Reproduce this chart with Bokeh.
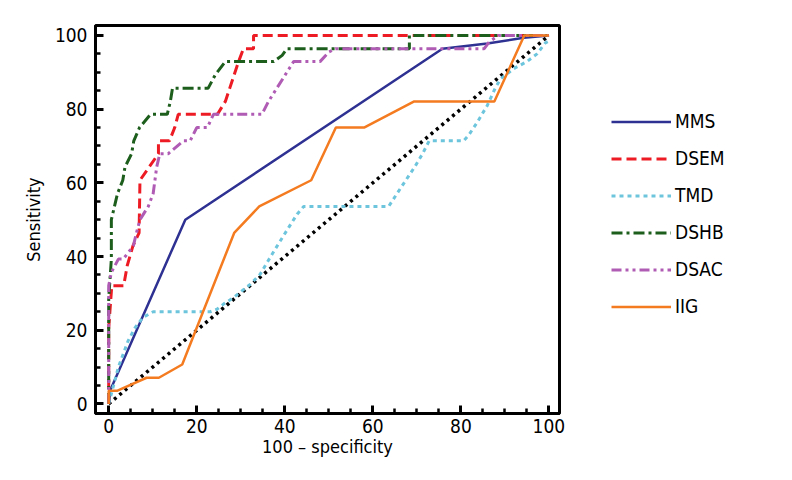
from bokeh.plotting import figure
from bokeh.models import Range1d, SingleIntervalTicker, Legend, LegendItem
from bokeh.embed import file_html
from bokeh.resources import INLINE

# ---- data ----
diag_x = [0, 100]
diag_y = [0, 100]

mms_x = [0, 0.3, 17.4, 75.8, 86.0, 94.3, 100]
mms_y = [0, 3.6, 50.0, 96.4, 97.8, 99.4, 100]

dsem_x = [0, 0, 0.7, 3.4, 4.2, 5.5, 6.9, 7.1, 9.2, 11.3, 11.3, 13.8, 15.0, 15.8, 24.7, 26.5, 27.5, 28.5, 29.5, 30.6, 32.9, 32.9, 100]
dsem_y = [0, 20.6, 32.1, 32.1, 37.5, 42.9, 46.4, 60.7, 64.3, 67.9, 71.4, 71.4, 75.0, 78.6, 78.6, 82.1, 85.7, 89.3, 92.9, 96.4, 96.4, 100, 100]

tmd_x = [0, 2.2, 4.4, 6.0, 7.8, 10.1, 23.0, 24.6, 26.1, 28.4, 32.2, 34.4, 36.7, 39.0, 40.9, 42.8, 44.3, 63.6, 65.5, 67.5, 69.5, 71.3, 72.8, 80.6, 81.8, 83.7, 86.0, 87.8, 89.0, 92.0, 95.0, 97.3, 99.2, 100]
tmd_y = [0, 10.0, 17.1, 20.7, 23.5, 25.0, 25.0, 25.7, 27.1, 28.9, 32.5, 35.2, 39.8, 44.3, 47.9, 51.5, 53.6, 53.6, 57.1, 60.7, 64.3, 67.9, 71.4, 71.4, 73.0, 76.4, 81.0, 85.7, 88.2, 91.0, 92.9, 95.0, 98.0, 98.5]

dshb_x = [0, 0, 0.6, 0.6, 2.0, 3.2, 3.7, 5.2, 5.7, 7.0, 9.5, 13.3, 14.0, 14.5, 22.6, 24.2, 26.5, 37.5, 39.4, 40.5, 68.3, 68.3, 100]
dshb_y = [0, 28.6, 39.3, 50.0, 57.1, 60.7, 64.3, 67.9, 71.4, 75.0, 78.6, 78.6, 82.1, 85.7, 85.7, 89.3, 92.9, 92.9, 94.6, 96.4, 96.4, 100, 100]

dsac_x = [0, 0, 0.6, 2.2, 3.3, 5.6, 6.3, 7.1, 9.0, 10.1, 10.9, 11.6, 13.5, 17.0, 18.5, 20.0, 22.4, 23.8, 34.8, 36.3, 38.2, 40.1, 42.0, 48.0, 50.0, 51.5, 85.3, 86.4, 88.5, 100]
dsac_y = [0, 32.1, 35.7, 39.3, 39.3, 42.9, 46.4, 50.0, 53.6, 57.1, 64.3, 67.9, 67.9, 71.4, 71.4, 75.0, 75.0, 78.6, 78.6, 82.1, 85.7, 89.3, 92.9, 92.9, 95.5, 96.4, 96.4, 98.2, 100, 100]

iig_x = [0, 0, 2.0, 8.6, 11.4, 16.7, 28.5, 34.2, 46.0, 51.6, 58.0, 69.4, 87.6, 94.4, 100]
iig_y = [0, 3.6, 3.6, 7.1, 7.1, 10.7, 46.4, 53.6, 60.7, 75.0, 75.0, 82.1, 82.1, 100, 100]

names = ["MMS", "DSEM", "TMD", "DSHB", "DSAC", "IIG"]

FONT = "DejaVu Sans Condensed, Roboto, sans-serif"

p = figure(frame_width=464, frame_height=388, output_backend="svg", toolbar_location=None,
           x_range=Range1d(-3.0, 102.4), y_range=Range1d(-2.6, 102.7),
           min_border_left=95, min_border_right=217, min_border_top=25, min_border_bottom=59)
p.background_fill_color = "white"
p.border_fill_color = "white"
p.xgrid.visible = False
p.ygrid.visible = False
p.outline_line_color = "black"
p.outline_line_width = 3
p.outline_line_alpha = 1

p.xaxis.ticker = SingleIntervalTicker(interval=20, num_minor_ticks=4)
p.yaxis.ticker = SingleIntervalTicker(interval=20, num_minor_ticks=4)
for ax in (p.xaxis, p.yaxis):
    ax.axis_line_width = 3
    ax.major_tick_in = 8
    ax.major_tick_out = 0
    ax.minor_tick_in = 5
    ax.minor_tick_out = 0
    ax.major_tick_line_width = 3
    ax.minor_tick_line_width = 2.5
    ax.major_label_text_font = FONT
    ax.major_label_text_font_size = "19px"
    ax.major_label_text_color = "black"
    ax.axis_label_text_font = FONT
    ax.axis_label_text_font_size = "18px"
    ax.axis_label_text_font_style = "normal"
    ax.axis_label_text_color = "black"
p.xaxis.axis_label = "100 \u2013 specificity"
p.yaxis.axis_label = "Sensitivity"
p.xaxis.major_label_standoff = 5
p.yaxis.major_label_standoff = 8
p.xaxis.axis_label_standoff = 0
p.yaxis.axis_label_standoff = 8

p.line(diag_x, diag_y, line_color="black", line_width=3.5, line_dash="3 4")

r_mms = p.line(mms_x, mms_y, line_color="#2e3192", line_width=2.5)
r_dsem = p.line(dsem_x, dsem_y, line_color="#ed1c24", line_width=3, line_dash="10 5")
r_tmd = p.line(tmd_x, tmd_y, line_color="#6cc5dc", line_width=3, line_dash="4 4")
r_dshb = p.line(dshb_x, dshb_y, line_color="#1d5e1d", line_width=3, line_dash="11 4 3 4")
r_dsac = p.line(dsac_x, dsac_y, line_color="#b05cb5", line_width=3, line_dash="10 4 3 4 3 4")
r_iig = p.line(iig_x, iig_y, line_color="#f47b20", line_width=2.5)

renderers = [r_mms, r_dsem, r_tmd, r_dshb, r_dsac, r_iig]
legend = Legend(items=[LegendItem(label=n, renderers=[r]) for n, r in zip(names, renderers)],
                location=(52, 94.5), glyph_width=60, glyph_height=25, label_height=25,
                spacing=12, padding=0, margin=0, label_standoff=4,
                border_line_color=None, background_fill_alpha=0,
                label_text_font=FONT, label_text_font_size="19px", label_text_color="black")
p.add_layout(legend, "right")

open("out.html", "w").write(file_html(p, INLINE))
